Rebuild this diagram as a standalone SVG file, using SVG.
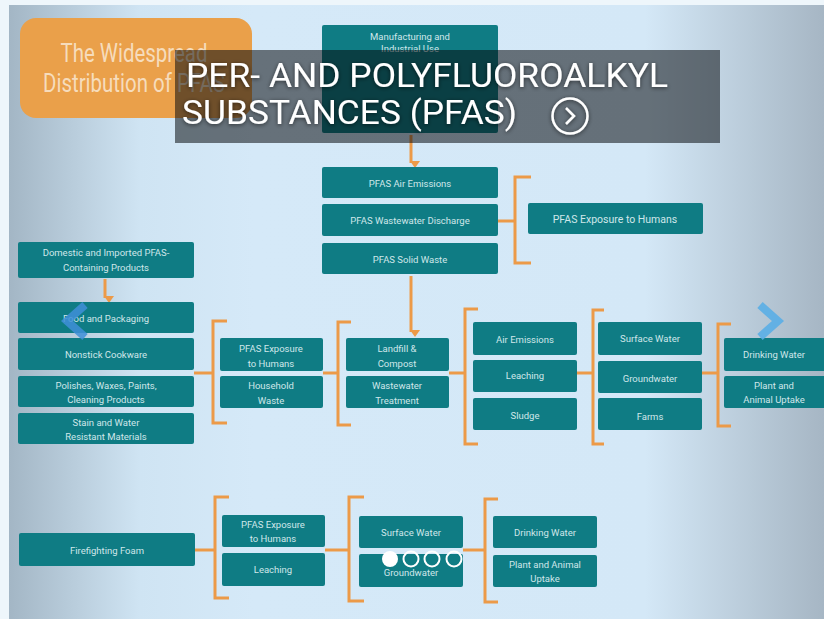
<svg xmlns="http://www.w3.org/2000/svg" width="824" height="619" viewBox="0 0 824 619">
<defs>
<linearGradient id="bg" x1="9" y1="0" x2="824" y2="0" gradientUnits="userSpaceOnUse">
<stop offset="0" stop-color="#a3b6c5"/>
<stop offset="0.16" stop-color="#cfe4f3"/>
<stop offset="0.3" stop-color="#d5e9f8"/>
<stop offset="0.78" stop-color="#d4e8f7"/>
<stop offset="1" stop-color="#a6b6c4"/>
</linearGradient>
<marker id="ah" viewBox="0 0 10 10" refX="5" refY="9" markerWidth="10" markerHeight="10" markerUnits="userSpaceOnUse" orient="auto-start-reverse">
<path d="M0,3 L10,3 L5,10 Z" fill="#ec9a48" transform="rotate(-90 5 5)"/>
</marker>
<filter id="ts" x="-10%" y="-30%" width="120%" height="160%">
<feDropShadow dx="0" dy="1" stdDeviation="2" flood-color="#000" flood-opacity="0.6"/>
</filter>
</defs>
<style>
.box{fill:#0f7c84;}
.t{font-family:Roboto,"Liberation Sans",sans-serif;font-size:9.5px;fill:#cfe7ea;text-anchor:middle;dominant-baseline:central;}
.conn{fill:none;stroke:#ec9a48;stroke-width:3;}
.arr{fill:none;stroke:#ec9a48;stroke-width:3;}
</style>
<rect x="0" y="0" width="824" height="619" fill="#eef6fb"/>
<rect x="9" y="5" width="815" height="614" fill="url(#bg)"/>

<g id="title-box">
<rect x="20" y="18" width="232" height="100" rx="16" fill="#eaa04a"/>
<text x="134" y="62" font-family="Roboto,'Liberation Sans',sans-serif" font-size="25" fill="#f6dcbc" text-anchor="middle" textLength="147" lengthAdjust="spacingAndGlyphs">The Widespread</text>
<text x="134" y="92" font-family="Roboto,'Liberation Sans',sans-serif" font-size="25" fill="#f6dcbc" text-anchor="middle" textLength="182" lengthAdjust="spacingAndGlyphs">Distribution of PFAS</text>
</g>

<g id="connectors">
<line class="arr" x1="411" y1="135" x2="411" y2="163" marker-end="url(#ah)"/>
<line class="arr" x1="411" y1="276" x2="411" y2="332" marker-end="url(#ah)"/>
<line class="arr" x1="105" y1="279" x2="105" y2="298" marker-end="url(#ah)"/>
<line class="conn" x1="498" y1="221" x2="515" y2="221"/>
<path class="conn" d="M531,177 H515 V263 H531"/>
<line class="conn" x1="194" y1="373" x2="213" y2="373"/>
<path class="conn" d="M227,321 H213 V423 H227"/>
<line class="conn" x1="323" y1="373" x2="338" y2="373"/>
<path class="conn" d="M351,322 H338 V425 H351"/>
<line class="conn" x1="449" y1="373" x2="465" y2="373"/>
<path class="conn" d="M478,309 H465 V444 H478"/>
<line class="conn" x1="577" y1="373" x2="593" y2="373"/>
<path class="conn" d="M604,310 H593 V444 H604"/>
<line class="conn" x1="702" y1="373" x2="718" y2="373"/>
<path class="conn" d="M731,324 H718 V426 H731"/>
<line class="conn" x1="195" y1="550" x2="215" y2="550"/>
<path class="conn" d="M229,497 H215 V598 H229"/>
<line class="conn" x1="325" y1="550" x2="349" y2="550"/>
<path class="conn" d="M364,497 H349 V601 H364"/>
<line class="conn" x1="463" y1="550" x2="485" y2="550"/>
<path class="conn" d="M498,499 H485 V602 H498"/>
</g>

<g id="manufacturing"><rect class="box" x="322" y="25" width="176" height="108" rx="2"/><text class="t" x="410" y="36">Manufacturing and</text><text class="t" x="410" y="48">Industrial Use</text></g>
<g id="pfas-air-emissions"><rect class="box" x="322" y="167" width="176" height="31" rx="2"/><text class="t" x="410" y="183">PFAS Air Emissions</text></g>
<g id="pfas-wastewater-discharge"><rect class="box" x="322" y="204" width="176" height="32" rx="2"/><text class="t" x="410" y="220">PFAS Wastewater Discharge</text></g>
<g id="pfas-solid-waste"><rect class="box" x="322" y="243" width="176" height="31" rx="2"/><text class="t" x="410" y="259">PFAS Solid Waste</text></g>
<g id="exposure-top"><rect class="box" x="528" y="203" width="175" height="31" rx="2"/><text class="t" x="615" y="219" style="font-size:10.5px">PFAS Exposure to Humans</text></g>

<g id="domestic-products"><rect class="box" x="18" y="242" width="176" height="36" rx="2"/><text class="t" x="106" y="252">Domestic and Imported PFAS-</text><text class="t" x="106" y="267">Containing Products</text></g>
<g id="food-packaging"><rect class="box" x="18" y="302" width="176" height="31" rx="2"/><text class="t" x="106" y="318">Food and Packaging</text></g>
<g id="nonstick-cookware"><rect class="box" x="18" y="338" width="176" height="32" rx="2"/><text class="t" x="106" y="354">Nonstick Cookware</text></g>
<g id="polishes"><rect class="box" x="18" y="376" width="176" height="31" rx="2"/><text class="t" x="106" y="385">Polishes, Waxes, Paints,</text><text class="t" x="106" y="399">Cleaning Products</text></g>
<g id="stain-water"><rect class="box" x="18" y="413" width="176" height="31" rx="2"/><text class="t" x="106" y="422">Stain and Water</text><text class="t" x="106" y="436">Resistant Materials</text></g>

<g id="exposure-mid"><rect class="box" x="220" y="338" width="103" height="33" rx="2"/><text class="t" x="271" y="348">PFAS Exposure</text><text class="t" x="271" y="363">to Humans</text></g>
<g id="household-waste"><rect class="box" x="220" y="376" width="103" height="32" rx="2"/><text class="t" x="271" y="385">Household</text><text class="t" x="271" y="400">Waste</text></g>
<g id="landfill-compost"><rect class="box" x="346" y="338" width="103" height="33" rx="2"/><text class="t" x="397" y="348">Landfill &amp;</text><text class="t" x="397" y="363">Compost</text></g>
<g id="wastewater-treatment"><rect class="box" x="346" y="376" width="103" height="32" rx="2"/><text class="t" x="397" y="385">Wastewater</text><text class="t" x="397" y="400">Treatment</text></g>

<g id="air-emissions"><rect class="box" x="473" y="322" width="104" height="33" rx="2"/><text class="t" x="525" y="339">Air Emissions</text></g>
<g id="leaching"><rect class="box" x="473" y="360" width="104" height="32" rx="2"/><text class="t" x="525" y="375">Leaching</text></g>
<g id="sludge"><rect class="box" x="473" y="398" width="104" height="32" rx="2"/><text class="t" x="525" y="415">Sludge</text></g>

<g id="surface-water"><rect class="box" x="598" y="322" width="104" height="33" rx="2"/><text class="t" x="650" y="338">Surface Water</text></g>
<g id="groundwater"><rect class="box" x="598" y="361" width="104" height="32" rx="2"/><text class="t" x="650" y="378">Groundwater</text></g>
<g id="farms"><rect class="box" x="598" y="398" width="104" height="32" rx="2"/><text class="t" x="650" y="416">Farms</text></g>

<g id="drinking-water"><rect class="box" x="724" y="338" width="104" height="33" rx="2"/><text class="t" x="774" y="354">Drinking Water</text></g>
<g id="plant-animal-uptake"><rect class="box" x="724" y="376" width="104" height="32" rx="2"/><text class="t" x="774" y="385">Plant and</text><text class="t" x="774" y="399">Animal Uptake</text></g>

<g id="firefighting-foam"><rect class="box" x="19" y="533" width="176" height="33" rx="2"/><text class="t" x="107" y="550">Firefighting Foam</text></g>
<g id="exposure-bottom"><rect class="box" x="222" y="515" width="103" height="32" rx="2"/><text class="t" x="273" y="524">PFAS Exposure</text><text class="t" x="273" y="538">to Humans</text></g>
<g id="leaching-bottom"><rect class="box" x="222" y="553" width="103" height="33" rx="2"/><text class="t" x="273" y="569">Leaching</text></g>
<g id="surface-water-bottom"><rect class="box" x="359" y="516" width="104" height="32" rx="2"/><text class="t" x="411" y="532">Surface Water</text></g>
<g id="groundwater-bottom"><rect class="box" x="359" y="554" width="104" height="33" rx="2"/><text class="t" x="411" y="572">Groundwater</text></g>
<g id="drinking-water-bottom"><rect class="box" x="493" y="516" width="104" height="32" rx="2"/><text class="t" x="545" y="532">Drinking Water</text></g>
<g id="plant-animal-bottom"><rect class="box" x="493" y="555" width="104" height="32" rx="2"/><text class="t" x="545" y="564">Plant and Animal</text><text class="t" x="545" y="578">Uptake</text></g>

<g id="caption">
<rect x="175" y="50" width="545" height="93" fill="#070b0f" fill-opacity="0.54"/>
<g filter="url(#ts)" font-family="Roboto,'Liberation Sans',sans-serif" fill="#ffffff">
<text x="186" y="87" font-size="33" textLength="482" lengthAdjust="spacingAndGlyphs">PER- AND POLYFLUOROALKYL</text>
<text x="182" y="124" font-size="33" textLength="335" lengthAdjust="spacingAndGlyphs">SUBSTANCES (PFAS)</text>
<circle cx="570" cy="116" r="17.5" fill="none" stroke="#ffffff" stroke-width="2.5"/>
<polyline points="566,108 574,116 566,124" fill="none" stroke="#ffffff" stroke-width="2.5"/>
</g>
</g>

<g id="prev-arrow"><polyline points="85,305 67,321 85,337" fill="none" stroke="#3f8fd8" stroke-opacity="0.85" stroke-width="8"/></g>
<g id="next-arrow"><polyline points="760,305 778,321 760,337" fill="none" stroke="#5aaee6" stroke-opacity="0.9" stroke-width="8"/></g>

<g id="pager">
<circle cx="390" cy="559" r="8" fill="#ffffff"/>
<circle cx="411" cy="559" r="7.5" fill="none" stroke="#ffffff" stroke-width="2"/>
<circle cx="432" cy="559" r="7.5" fill="none" stroke="#ffffff" stroke-width="2"/>
<circle cx="454" cy="559" r="7.5" fill="none" stroke="#ffffff" stroke-width="2"/>
</g>
</svg>
